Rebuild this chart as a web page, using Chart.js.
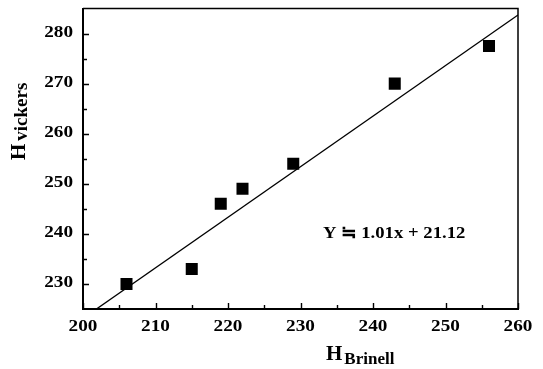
<!DOCTYPE html>
<html lang="en">
<head>
    <meta charset="UTF-8">
    <title>Hv vs HB</title>
    <script src="https://cdn.jsdelivr.net/npm/chart.js"></script>
    <style>
        html, body { margin: 0; padding: 0; background: #fff; }
        #wrap { width: 543px; height: 369px; }
    </style>
</head>
<body>
    <div id="wrap"><canvas id="hardChart" width="543" height="369"></canvas></div>

    <script>
        // Brinell vs Vickers hardness measurements
        const brinell = [206, 215, 219, 222, 229, 243, 256];
        const vickers = [230, 233, 246, 249, 254, 270, 277.5];

        // axis ticks
        const xTicks = [200, 210, 220, 230, 240, 250, 260];
        const yTicks = [230, 240, 250, 260, 270, 280];

        // linear fit Y = 1.01x + 21.12
        const fitSlope = 1.01;
        const fitIntercept = 21.12;
        const fitX = [200, 260];

        const points = brinell.map((x, i) => ({ x: x, y: vickers[i] }));
        const fitLine = fitX.map(x => ({ x: x, y: fitSlope * x + fitIntercept }));

        const SERIF = '"Liberation Serif", "Times New Roman", serif';

        // frame, inward ticks and all the text
        const frameAndText = {
            id: 'frameAndText',
            afterDraw(chart) {
                const ctx = chart.ctx;
                const a = chart.chartArea;
                const xs = chart.scales.x, ys = chart.scales.y;
                ctx.save();
                ctx.strokeStyle = '#000';
                ctx.fillStyle = '#000';

                // top and right border
                ctx.lineWidth = 1.5;
                ctx.beginPath();
                ctx.moveTo(a.left, a.top);
                ctx.lineTo(a.right, a.top);
                ctx.lineTo(a.right, a.bottom);
                ctx.stroke();

                // ticks pointing into the plot
                ctx.lineWidth = 1.4;
                ctx.beginPath();
                for (let v = xs.min; v <= xs.max; v += 5) {
                    const px = Math.round(xs.getPixelForValue(v)) + 0.5;
                    const len = v % 10 === 0 ? 6 : 4;
                    ctx.moveTo(px, a.bottom);
                    ctx.lineTo(px, a.bottom - len);
                }
                for (let v = 230; v <= 280; v += 5) {
                    const py = Math.round(ys.getPixelForValue(v)) + 0.5;
                    const len = v % 10 === 0 ? 6 : 4;
                    ctx.moveTo(a.left, py);
                    ctx.lineTo(a.left + len, py);
                }
                ctx.stroke();

                // tick labels, slightly widened
                ctx.font = 'bold 17px ' + SERIF;
                ctx.textBaseline = 'alphabetic';
                xTicks.forEach(v => {
                    const px = xs.getPixelForValue(v);
                    ctx.save();
                    ctx.translate(px, a.bottom + 22);
                    ctx.scale(1.13, 1);
                    ctx.textAlign = 'center';
                    ctx.fillText(String(v), 0, 0);
                    ctx.restore();
                });
                yTicks.forEach(v => {
                    const py = ys.getPixelForValue(v);
                    ctx.save();
                    ctx.translate(a.left - 10, py + 3);
                    ctx.scale(1.13, 1);
                    ctx.textAlign = 'right';
                    ctx.fillText(String(v), 0, 0);
                    ctx.restore();
                });

                // fit equation
                ctx.save();
                ctx.translate(xs.getPixelForValue(233.1), ys.getPixelForValue(239.2));
                ctx.scale(1.1, 1);
                ctx.textAlign = 'left';
                ctx.font = 'bold 17px ' + SERIF;
                ctx.fillText('Y \u2252 1.01x + 21.12', 0, 0);
                ctx.restore();

                // x axis title H_Brinell
                ctx.textAlign = 'left';
                ctx.font = 'bold 21px ' + SERIF;
                ctx.fillText('H', 326, 360);
                const hw = ctx.measureText('H').width;
                ctx.font = 'bold 17px ' + SERIF;
                ctx.fillText('Brinell', 326 + hw + 2, 364);

                // y axis title H_vickers
                ctx.save();
                ctx.translate(25, 160);
                ctx.rotate(-Math.PI / 2);
                ctx.font = 'bold 21px ' + SERIF;
                ctx.fillText('H', 0, 0);
                const hw2 = ctx.measureText('H').width;
                ctx.font = 'bold 19px ' + SERIF;
                ctx.fillText('vickers', hw2 + 3, 2);
                ctx.restore();

                ctx.restore();
            }
        };

        const ctx = document.getElementById('hardChart').getContext('2d');
        new Chart(ctx, {
            type: 'scatter',
            data: {
                datasets: [{
                    label: 'data',
                    data: points,
                    pointStyle: 'rect',
                    pointRadius: 8.5,
                    pointHoverRadius: 8.5,
                    backgroundColor: '#000',
                    borderWidth: 0
                }, {
                    label: 'fit',
                    data: fitLine,
                    showLine: true,
                    pointRadius: 0,
                    borderColor: '#000',
                    borderWidth: 1.3,
                    fill: false
                }]
            },
            options: {
                responsive: false,
                animation: false,
                layout: { padding: { top: 6, right: 25, left: 0, bottom: 0 } },
                plugins: {
                    legend: { display: false },
                    tooltip: { enabled: false }
                },
                scales: {
                    x: {
                        type: 'linear',
                        min: 200,
                        max: 260,
                        grid: { display: false },
                        border: { display: true, color: '#000', width: 2 },
                        ticks: { display: false },
                        afterFit: s => { s.height = 60; }
                    },
                    y: {
                        type: 'linear',
                        min: 225,
                        max: 285,
                        grid: { display: false },
                        border: { display: true, color: '#000', width: 2 },
                        ticks: { display: false },
                        afterFit: s => { s.width = 83; }
                    }
                }
            },
            plugins: [frameAndText]
        });
    </script>
</body>
</html>
